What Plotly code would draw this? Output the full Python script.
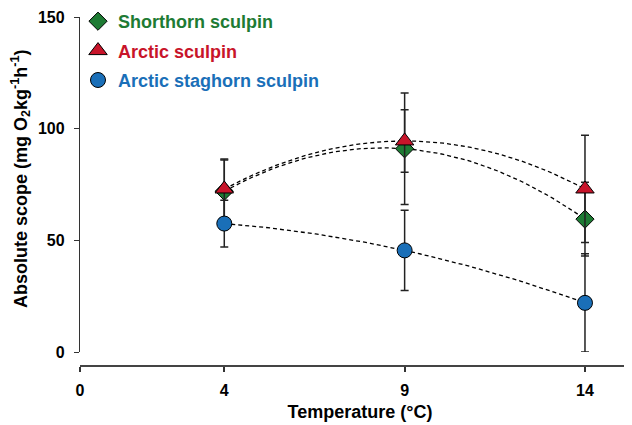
import numpy as np
import plotly.graph_objects as go

temps = [4, 9, 14]
species = ["Shorthorn sculpin", "Arctic sculpin", "Arctic staghorn sculpin"]
shorthorn = [72, 91, 59.5]
shorthorn_err = [14, 25, 16.5]
arctic = [73, 94.5, 73]
arctic_err = [13.4, 14, 24]
staghorn = [57.5, 45.5, 22]
staghorn_err = [10.5, 18, 22]
x_ticks = [0, 4, 9, 14]
y_ticks = [0, 50, 100, 150]

colors = ["#1e7b34", "#c8142a", "#1a6fb8"]
symbols = ["diamond", "triangle-up", "circle"]
sizes = [14, 16, 15]
series = [shorthorn, arctic, staghorn]
errs = [shorthorn_err, arctic_err, staghorn_err]

FONT = "Liberation Sans, Arial, sans-serif"
fig = go.Figure()

# quadratic trend curves (dashed)
xs = np.linspace(min(temps), max(temps), 80)
for vals in series:
    coef = np.polyfit(temps, vals, 2)
    fig.add_trace(go.Scatter(x=xs, y=np.polyval(coef, xs), mode="lines",
                             line=dict(color="black", width=1.3, dash="4px,3px"),
                             showlegend=False, hoverinfo="skip", cliponaxis=False))

for i, (name, vals, e) in enumerate(zip(species, series, errs)):
    fig.add_trace(go.Scatter(
        x=temps, y=vals, mode="markers",
        name=f"<span style='color:{colors[i]}'>{name}</span>",
        legendgroup=f"g{i}",
        marker=dict(symbol=symbols[i], size=sizes[i], color=colors[i],
                    line=dict(color="black", width=1)),
        error_y=dict(type="data", array=e, visible=True, color="#222222",
                     thickness=1.5, width=4),
        cliponaxis=False))

L, T, PW, PH = 72, 9, 560, 349

fig.update_layout(
    width=632, height=425,
    margin=dict(l=L, r=0, t=T, b=425 - T - PH, autoexpand=False),
    plot_bgcolor="white", paper_bgcolor="white",
    font=dict(family=FONT, size=16, color="black"),
    showlegend=True,
    legend=dict(x=-2 / PW, y=1.0401, xanchor="left", yanchor="top",
                bgcolor="rgba(0,0,0,0)",
                font=dict(size=18, family=FONT, weight="bold"),
                tracegroupgap=3, traceorder="grouped"),
    xaxis=dict(range=[0, PW / 36.07], tickvals=x_ticks, showline=True, linecolor="#444444",
               linewidth=2.2, ticks="outside", ticklen=5, tickwidth=1.5, tickcolor="#333333",
               showgrid=False, zeroline=False, anchor="free", position=0, automargin=False,
               ticklabelstandoff=5,
               tickfont=dict(family=FONT, size=16, color="black", weight="bold"),
               title=dict(text="Temperature (°C)", standoff=6,
                          font=dict(family=FONT, size=18, weight="bold"))),
    yaxis=dict(range=[0, 150], domain=[14 / PH, 1], tickvals=y_ticks, showline=True,
               linecolor="#333333", linewidth=1.3, ticks="outside", ticklen=5,
               tickwidth=1.3, tickcolor="#333333", showgrid=False, zeroline=False,
               automargin=False, ticklabelstandoff=6,
               tickfont=dict(family=FONT, size=16, color="black", weight="bold")),
)

fig.add_annotation(text="<b>Absolute scope (mg O<sub>2</sub>kg<sup>-1</sup>h<sup>-1</sup>)</b>",
                   xref="paper", yref="paper", x=(12 - L) / PW, y=(366 - 179) / PH,
                   textangle=-90, showarrow=False,
                   font=dict(family=FONT, size=18),
                   xanchor="center", yanchor="middle")

fig.write_html("out.html")
